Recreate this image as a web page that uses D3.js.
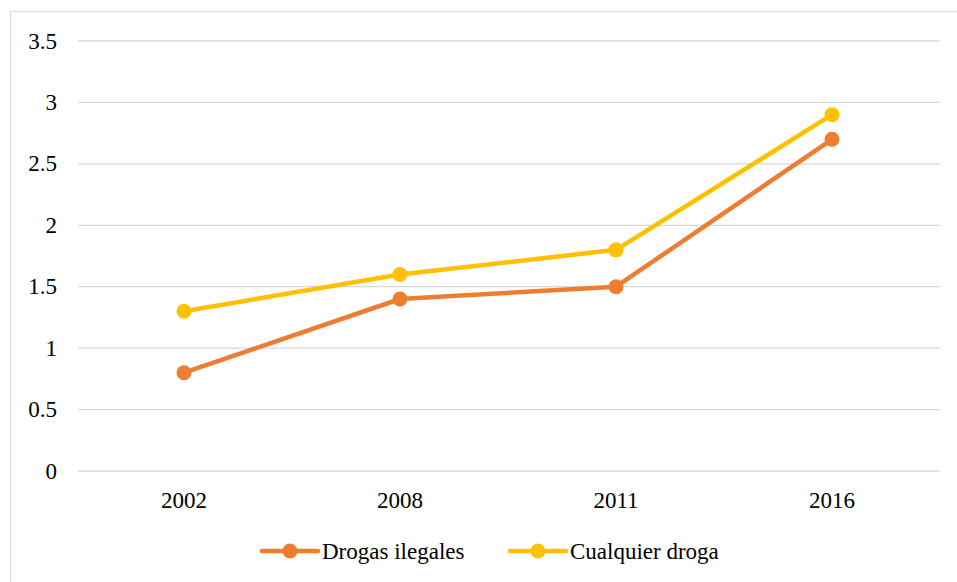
<!DOCTYPE html>
<html>
<head>
<meta charset="utf-8">
<script src="https://cdn.jsdelivr.net/npm/d3@7"></script>
<style>
  body { margin: 0; background: #fff; }
</style>
</head>
<body>
<script>
// chart data
const years = ['2002', '2008', '2011', '2016'];
const drogasIlegales = [0.8, 1.4, 1.5, 2.7];
const cualquierDroga = [1.3, 1.6, 1.8, 2.9];
const yTicks = [0, 0.5, 1, 1.5, 2, 2.5, 3, 3.5];

const series = [
  { name: 'Drogas ilegales', values: drogasIlegales, color: '#ED7D31' },
  { name: 'Cualquier droga', values: cualquierDroga, color: '#FFC000' }
];

const svgWidth = 957,
  svgHeight = 582,
  margin = { top: 41, left: 76, right: 17, bottom: 111 },
  width = svgWidth - margin.left - margin.right,
  height = svgHeight - margin.top - margin.bottom,
  fontSize = '23px';

const svg = d3.select('body').append('svg')
  .attr('width', svgWidth)
  .attr('height', svgHeight)
  .attr('font-family', "'Liberation Serif', 'Times New Roman', 'DejaVu Serif', serif");

// outer frame
svg.append('rect')
  .attr('x', 10.5).attr('y', 11.5)
  .attr('width', 960).attr('height', 600)
  .attr('fill', 'none')
  .attr('stroke', '#d9d9d9')
  .attr('stroke-width', 1);

const g = svg.append('g')
  .attr('transform', `translate(${margin.left},${margin.top})`);

const x = d3.scalePoint()
  .domain(years)
  .range([0, width])
  .padding(0.5);

const y = d3.scaleLinear()
  .domain([0, 3.5])
  .range([height, 0]);

// gridlines
g.selectAll('line.grid').data(yTicks).enter().append('line')
  .attr('class', 'grid')
  .attr('x1', 2).attr('x2', width)
  .attr('y1', d => y(d)).attr('y2', d => y(d))
  .attr('stroke', '#d9d9d9')
  .attr('stroke-width', 1.3);

// y labels
g.selectAll('text.ylab').data(yTicks).enter().append('text')
  .attr('class', 'ylab')
  .attr('x', -19)
  .attr('y', d => y(d))
  .attr('dy', '0.33em')
  .attr('text-anchor', 'end')
  .attr('font-size', fontSize)
  .text(d => d);

// x labels
g.selectAll('text.xlab').data(years).enter().append('text')
  .attr('class', 'xlab')
  .attr('x', d => x(d))
  .attr('y', height + 37)
  .attr('text-anchor', 'middle')
  .attr('font-size', fontSize)
  .text(d => d);

const line = d3.line()
  .x((d, i) => x(years[i]))
  .y(d => y(d));

series.forEach(s => {
  g.append('path')
    .datum(s.values)
    .attr('d', line)
    .attr('fill', 'none')
    .attr('stroke', s.color)
    .attr('stroke-width', 4.5)
    .attr('stroke-linejoin', 'round');

  g.selectAll(null).data(s.values).enter().append('circle')
    .attr('cx', (d, i) => x(years[i]))
    .attr('cy', d => y(d))
    .attr('r', 7.5)
    .attr('fill', s.color);
});

// legend
const legendX = [262, 510];
const legend = svg.append('g');
series.forEach((s, i) => {
  const lg = legend.append('g').attr('transform', `translate(${legendX[i]},551)`);
  lg.append('line')
    .attr('x1', 0).attr('x2', 56)
    .attr('stroke', s.color)
    .attr('stroke-width', 4.5)
    .attr('stroke-linecap', 'round');
  lg.append('circle')
    .attr('cx', 28).attr('r', 7.5)
    .attr('fill', s.color);
  lg.append('text')
    .attr('x', 60)
    .attr('dy', '0.33em')
    .attr('font-size', fontSize)
    .text(s.name);
});
</script>
</body>
</html>
